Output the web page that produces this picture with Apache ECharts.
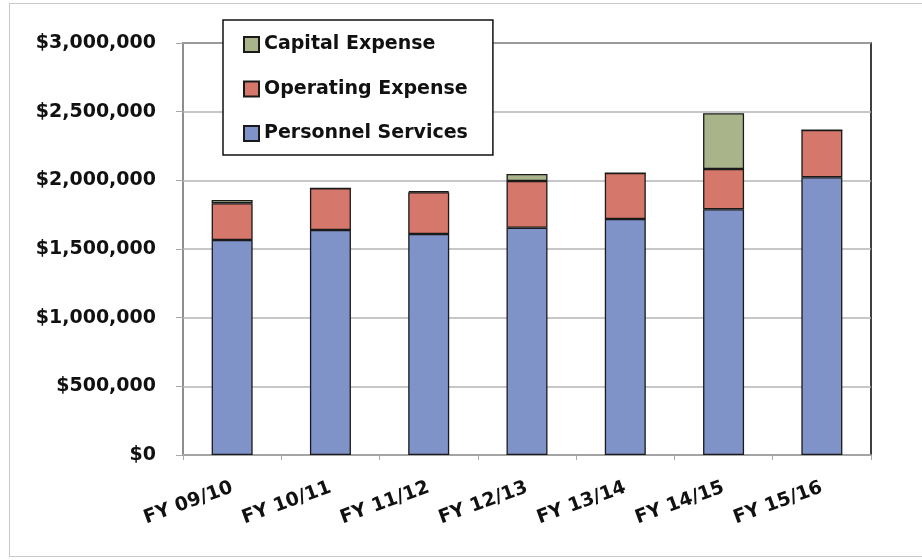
<!DOCTYPE html>
<html>
<head>
<meta charset="utf-8">
<script src="https://cdn.jsdelivr.net/npm/echarts@6/dist/echarts.min.js"></script>
<style>
html,body{margin:0;padding:0;background:#fff;}
#frame{position:absolute;left:9px;top:3px;width:920px;height:554px;border:1px solid #c8c8c8;border-right:none;box-sizing:border-box;}
#c{position:absolute;left:0;top:0;width:922px;height:560px;}
</style>
</head>
<body>
<div id="frame"></div>
<div id="c"></div>
<script>
const categories = ['FY 09/10','FY 10/11','FY 11/12','FY 12/13','FY 13/14','FY 14/15','FY 15/16'];
const personnelServices = [1565000, 1638000, 1609000, 1655000, 1718000, 1789000, 2022000];
const operatingExpense  = [268000, 304000, 305000, 340000, 335000, 294000, 344000];
const capitalExpense    = [24000, 0, 8000, 51000, 0, 405000, 0];
const yTicks = [0, 500000, 1000000, 1500000, 2000000, 2500000, 3000000];

const fontFam = '"DejaVu Sans", sans-serif';
const chart = echarts.init(document.getElementById('c'), null, {renderer:'canvas'});
function fmt(v){ return '$' + v.toString().replace(/\B(?=(\d{3})+(?!\d))/g, ','); }
const barBorder = {borderColor:'#1a1a1a', borderWidth:1.3};
chart.setOption({
  animation:false,
  backgroundColor:'transparent',
  grid:{left:183, top:43, right:51, bottom:105, show:true, borderColor:'#111', borderWidth:1.6, backgroundColor:'transparent'},
  legend:{
    orient:'vertical', left:223, top:20,
    data:['Capital Expense','Operating Expense','Personnel Services'],
    backgroundColor:'#fff', borderColor:'#111', borderWidth:1.5,
    padding:[15,25,12,20], itemGap:25.5, itemWidth:15, itemHeight:15,
    icon:'rect',
    textStyle:{fontFamily:fontFam, fontWeight:'bold', fontSize:19, color:'#111'}
  },
  xAxis:{
    type:'category', data:categories,
    axisLine:{lineStyle:{color:'#a8a8a8', width:1.5}},
    axisTick:{show:true, length:5, lineStyle:{color:'#a8a8a8', width:1}},
    axisLabel:{rotate:20, margin:32, fontFamily:fontFam, fontWeight:'bold', fontSize:19, color:'#111'}
  },
  yAxis:{
    type:'value', min:yTicks[0], max:yTicks[yTicks.length-1], interval:yTicks[1]-yTicks[0],
    axisLine:{show:true, lineStyle:{color:'#a8a8a8', width:1.5}},
    axisTick:{show:true, length:7, lineStyle:{color:'#a8a8a8'}},
    splitLine:{lineStyle:{color:'#b4b4b4', width:1.5}},
    axisLabel:{margin:27, formatter:fmt, fontFamily:fontFam, fontWeight:'bold', fontSize:19, color:'#111'}
  },
  series:[
    {name:'Personnel Services', type:'bar', stack:'t', barWidth:41, data:personnelServices,
     itemStyle:Object.assign({color:'#7f93c8'}, barBorder)},
    {name:'Operating Expense', type:'bar', stack:'t', barWidth:41, data:operatingExpense,
     itemStyle:Object.assign({color:'#d5776a'}, barBorder)},
    {name:'Capital Expense', type:'bar', stack:'t', barWidth:41, data:capitalExpense,
     itemStyle:Object.assign({color:'#a9b48a'}, barBorder)}
  ]
});
</script>
</body>
</html>
